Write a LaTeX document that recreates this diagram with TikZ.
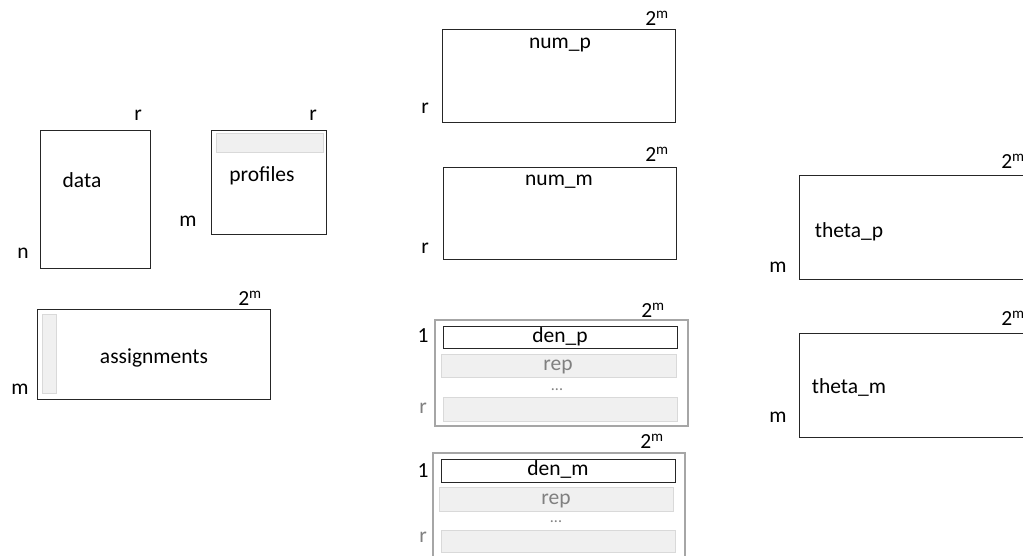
\documentclass[tikz,border=0pt]{standalone}
\usepackage{fontspec}
\setmainfont{Carlito}
\begin{document}
\begin{tikzpicture}[x=1pt,y=-1pt,
  box/.style={draw=black!85, line width=1pt, fill=white, inner sep=0pt, outer sep=0pt, anchor=north west},
  frame/.style={draw=black!35, line width=1.5pt, inner sep=0pt, outer sep=0pt, anchor=north west},
  bar/.style={draw=black!15, line width=1pt, fill=black!6, inner sep=0pt, outer sep=0pt, anchor=north west},
  lbl/.style={inner sep=0pt, anchor=mid, yshift=-3.5pt, font=\fontsize{21.5}{25}\selectfont},
  dim/.style={lbl},
  soft/.style={lbl, text=black!50},
  dots/.style={soft, font=\fontsize{16}{18}\selectfont}]
\useasboundingbox (0,0) rectangle (1023,555);
\clip (0,0) rectangle (1023,555);

% data
\node[box, minimum width=110pt, minimum height=138pt] (data) at (40,130) {};
\node[lbl] (datat) at (82,182) {data};
\node[dim] (datar) at (138,115) {r};
\node[dim] (datan) at (23,253) {n};

% profiles
\node[box, minimum width=115pt, minimum height=104pt] (prof) at (211,130) {};
\node[bar, minimum width=107pt, minimum height=19pt] (profbar) at (216,133) {};
\node[lbl] (proft) at (262,176) {profiles};
\node[dim] (profr) at (313,115) {r};
\node[dim] (profm) at (188,221) {m};

% assignments
\node[box, minimum width=233pt, minimum height=90pt] (asg) at (37,309) {};
\node[bar, minimum width=14pt, minimum height=79pt] (asgbar) at (42,314) {};
\node[lbl] (asgt) at (154,358) {assignments};
\node[dim] (asgc) at (250,300) {2\textsuperscript{m}};
\node[dim] (asgm) at (20,389) {m};

% num_p
\node[box, minimum width=233pt, minimum height=93pt] (nump) at (442,29) {};
\node[lbl] (numpt) at (560,43) {num\_p};
\node[dim] (numpc) at (657,20) {2\textsuperscript{m}};
\node[dim] (numpr) at (425,108) {r};

% num_m
\node[box, minimum width=233pt, minimum height=92pt] (numm) at (443,167) {};
\node[lbl] (nummt) at (559,180) {num\_m};
\node[dim] (nummc) at (657,156) {2\textsuperscript{m}};
\node[dim] (nummr) at (425,248) {r};

% den_p
\node[frame, minimum width=253pt, minimum height=106pt] (denp) at (435,320) {};
\node[box, minimum width=234pt, minimum height=22pt] (denp1) at (443,326) {};
\node[bar, minimum width=235pt, minimum height=23pt] (denp2) at (441,354) {};
\node[bar, minimum width=234pt, minimum height=24pt] (denpr) at (443,397) {};
\node[lbl] (denpt) at (560,337) {den\_p};
\node[soft] (denprep) at (558,365) {rep};
\node[dots] (denpdots) at (557,385) {...};
\node[dim] (denpone) at (423,337) {1};
\node[soft] (denprr) at (423,408) {r};
\node[dim] (denpc) at (653,312) {2\textsuperscript{m}};

% den_m
\node[frame, minimum width=252pt, minimum height=110pt] (denm) at (433,453) {};
\node[box, minimum width=234pt, minimum height=23pt] (denm1) at (441,459) {};
\node[bar, minimum width=234pt, minimum height=24pt] (denm2) at (439,487) {};
\node[bar, minimum width=234pt, minimum height=22pt] (denmr) at (441,530) {};
\node[lbl] (denmt) at (558,470) {den\_m};
\node[soft] (denmrep) at (556,499) {rep};
\node[dots] (denmdots) at (556,517) {...};
\node[dim] (denmone) at (423,472) {1};
\node[soft] (denmrr) at (423,537) {r};
\node[dim] (denmc) at (652,443) {2\textsuperscript{m}};

% theta_p
\node[box, minimum width=260pt, minimum height=104pt] (thp) at (799,175) {};
\node[lbl] (thpt) at (849,232) {theta\_p};
\node[dim] (thpm) at (778,267) {m};
\node[dim] (thpc) at (1013,163) {2\textsuperscript{m}};

% theta_m
\node[box, minimum width=260pt, minimum height=104pt] (thm) at (799,333) {};
\node[lbl] (thmt) at (849,388) {theta\_m};
\node[dim] (thmm) at (778,417) {m};
\node[dim] (thmc) at (1013,320) {2\textsuperscript{m}};
\end{tikzpicture}
\end{document}
